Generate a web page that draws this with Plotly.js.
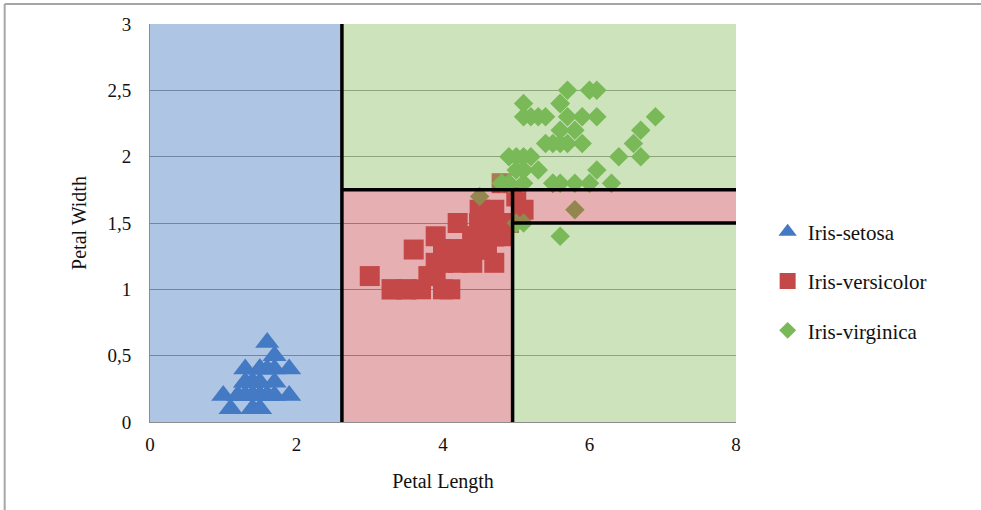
<!DOCTYPE html>
<html>
<head>
<meta charset="utf-8">
<script src="https://cdn.plot.ly/plotly-3.0.1.min.js"></script>
<style>
  html, body { margin: 0; padding: 0; background: #ffffff; }
  #chart { width: 981px; height: 510px; }
</style>
</head>
<body>
<div id="chart"></div>
<script>
// Iris-setosa
var setosaLength = [1.4,1.4,1.3,1.5,1.4,1.7,1.4,1.5,1.4,1.5,1.5,1.6,1.4,1.1,1.2,1.5,1.3,1.4,1.7,1.5,1.7,1.5,1.0,1.7,1.9,1.6,1.6,1.5,1.4,1.6,1.6,1.5,1.5,1.4,1.5,1.2,1.3,1.4,1.3,1.5,1.3,1.3,1.3,1.6,1.9,1.4,1.6,1.4,1.5,1.4];
var setosaWidth  = [0.2,0.2,0.2,0.2,0.2,0.4,0.3,0.2,0.2,0.1,0.2,0.2,0.1,0.1,0.2,0.4,0.4,0.3,0.3,0.3,0.2,0.4,0.2,0.5,0.2,0.2,0.4,0.2,0.2,0.2,0.2,0.4,0.1,0.2,0.2,0.2,0.2,0.1,0.2,0.2,0.3,0.3,0.2,0.6,0.4,0.3,0.2,0.2,0.2,0.2];
// Iris-versicolor
var versiLength = [4.7,4.5,4.9,4.0,4.6,4.5,4.7,3.3,4.6,3.9,3.5,4.2,4.0,4.7,3.6,4.4,4.5,4.1,4.5,3.9,4.8,4.0,4.9,4.7,4.3,4.4,4.8,5.0,4.5,3.5,3.8,3.7,3.9,5.1,4.5,4.5,4.7,4.4,4.1,4.0,4.4,4.6,4.0,3.3,4.2,4.2,4.2,4.3,3.0,4.1];
var versiWidth  = [1.4,1.5,1.5,1.3,1.5,1.3,1.6,1.0,1.3,1.4,1.0,1.5,1.0,1.4,1.3,1.4,1.5,1.0,1.5,1.1,1.8,1.3,1.5,1.2,1.3,1.4,1.4,1.7,1.5,1.0,1.1,1.0,1.2,1.6,1.5,1.6,1.5,1.3,1.3,1.3,1.2,1.4,1.2,1.0,1.3,1.2,1.3,1.3,1.1,1.3];
// Iris-virginica
var virgLength = [6.0,5.1,5.9,5.6,5.8,6.6,4.5,6.3,5.8,6.1,5.1,5.3,5.5,5.0,5.1,5.3,5.5,6.7,6.9,5.0,5.7,4.9,6.7,4.9,5.7,6.0,4.8,4.9,5.6,5.8,6.1,6.4,5.6,5.1,5.6,6.1,5.6,5.5,4.8,5.4,5.6,5.1,5.1,5.9,5.7,5.2,5.0,5.2,5.4,5.1];
var virgWidth  = [2.5,1.9,2.1,1.8,2.2,2.1,1.7,1.8,1.8,2.5,2.0,1.9,2.1,2.0,2.4,2.3,1.8,2.2,2.3,1.5,2.3,2.0,2.0,1.8,2.1,1.8,1.8,1.8,2.1,1.6,1.9,2.0,2.2,1.5,1.4,2.3,2.4,1.8,1.8,2.1,2.4,2.3,1.9,2.3,2.5,2.3,1.9,2.0,2.3,1.8];

var seriesNames = ['Iris-setosa', 'Iris-versicolor', 'Iris-virginica'];
var xTicks = [0, 2, 4, 6, 8];
var yTicks = [0, 0.5, 1, 1.5, 2, 2.5, 3];
// decision boundaries
var splitLength1 = 2.62;
var splitWidth1 = 1.75;
var splitLength2 = 4.95;
var splitWidth2 = 1.5;
var xMax = 8, yMax = 3;

var FONT = 'Liberation Serif, Times New Roman, serif';

function pts(name, xs, ys, sym, size, col) {
  return { type: 'scatter', mode: 'markers', x: xs, y: ys, name: name, showlegend: false,
    hoverinfo: 'x+y', marker: { symbol: sym, size: size, color: col, line: { width: 0 } } };
}
function leg(name, sym, col, grp, size) {
  return { type: 'scatter', mode: 'markers', x: [null], y: [null], name: name, legendgroup: grp,
    marker: { symbol: sym, size: size, color: col, line: { width: 0 } } };
}

var data = [
  pts(seriesNames[0], setosaLength, setosaWidth, 'triangle-up', 21, 'rgb(43,105,191)'),
  pts(seriesNames[1], versiLength, versiWidth, 'square', 20, 'rgb(187,47,43)'),
  pts(seriesNames[2], virgLength, virgWidth, 'diamond', 15, 'rgb(89,171,55)'),
  leg(seriesNames[0], 'triangle-up', 'rgb(68,122,196)', 'a', 16),
  leg(seriesNames[1], 'square', 'rgb(196,72,72)', 'b', 16),
  leg(seriesNames[2], 'diamond', 'rgb(122,185,88)', 'c', 13)
];

function rect(x0, x1, y0, y1, fill) {
  return { type: 'rect', xref: 'x', yref: 'y', x0: x0, x1: x1, y0: y0, y1: y1,
    fillcolor: fill, line: { width: 0 }, layer: 'above' };
}
function seg(x0, x1, y0, y1) {
  return { type: 'line', xref: 'x', yref: 'y', x0: x0, x1: x1, y0: y0, y1: y1,
    line: { color: '#000000', width: 3.5 }, layer: 'above' };
}
var BLUE = 'rgba(93,139,201,0.5)', RED = 'rgba(205,97,101,0.5)', GREEN = 'rgba(155,199,121,0.5)';

var shapes = [
  rect(0, splitLength1, 0, yMax, BLUE),
  rect(splitLength1, splitLength2, 0, splitWidth1, RED),
  rect(splitLength2, xMax, splitWidth2, splitWidth1, RED),
  rect(splitLength1, xMax, splitWidth1, yMax, GREEN),
  rect(splitLength2, xMax, 0, splitWidth2, GREEN),
  seg(splitLength1, splitLength1, 0, yMax),
  seg(splitLength1, xMax, splitWidth1, splitWidth1),
  seg(splitLength2, splitLength2, 0, splitWidth1),
  seg(splitLength2, xMax, splitWidth2, splitWidth2),
  // outer frame of the figure (top and left)
  { type: 'line', xref: 'paper', yref: 'paper', x0: -0.248, x1: 1.43, y0: 1.0505, y1: 1.0505, line: { color: '#a6a6a6', width: 2 }, layer: 'above' },
  { type: 'line', xref: 'paper', yref: 'paper', x0: -0.248, x1: -0.248, y0: 1.0505, y1: -0.23, line: { color: '#a6a6a6', width: 2 }, layer: 'above' }
];

var layout = {
  width: 981, height: 510,
  margin: { l: 150, r: 245, t: 24, b: 88 },
  paper_bgcolor: '#ffffff', plot_bgcolor: '#ffffff',
  separators: ', ',
  font: { family: FONT, color: '#111111', size: 19 },
  showlegend: true,
  xaxis: {
    range: [0, xMax], tickvals: xTicks, ticktext: xTicks.map(String),
    showgrid: false, zeroline: false, showline: true, linecolor: '#8c8c8c', linewidth: 1,
    ticks: 'outside', ticklen: 5, tickcolor: 'rgba(0,0,0,0)',
    tickfont: { family: FONT, size: 19, color: '#111111' },
    title: { text: 'Petal Length', font: { family: FONT, size: 20, color: '#111111' }, standoff: 20 },
    automargin: false, fixedrange: true
  },
  yaxis: {
    range: [0, yMax], tickvals: yTicks,
    showgrid: true, gridcolor: '#808080', gridwidth: 1,
    zeroline: false, showline: true, linecolor: '#8c8c8c', linewidth: 1,
    ticks: 'outside', ticklen: 14, tickcolor: 'rgba(0,0,0,0)',
    tickfont: { family: FONT, size: 19, color: '#111111' },
    title: { text: 'Petal Width', font: { family: FONT, size: 20, color: '#111111' }, standoff: 15 },
    automargin: false, fixedrange: true
  },
  legend: {
    x: 1.054, xanchor: 'left', y: 0.354, yanchor: 'middle',
    bgcolor: 'rgba(0,0,0,0)', borderwidth: 0,
    font: { family: FONT, size: 21, color: '#111111' },
    traceorder: 'grouped', tracegroupgap: 19
  },
  shapes: shapes
};

Plotly.newPlot('chart', data, layout, { displayModeBar: false, staticPlot: true });
</script>
</body>
</html>
